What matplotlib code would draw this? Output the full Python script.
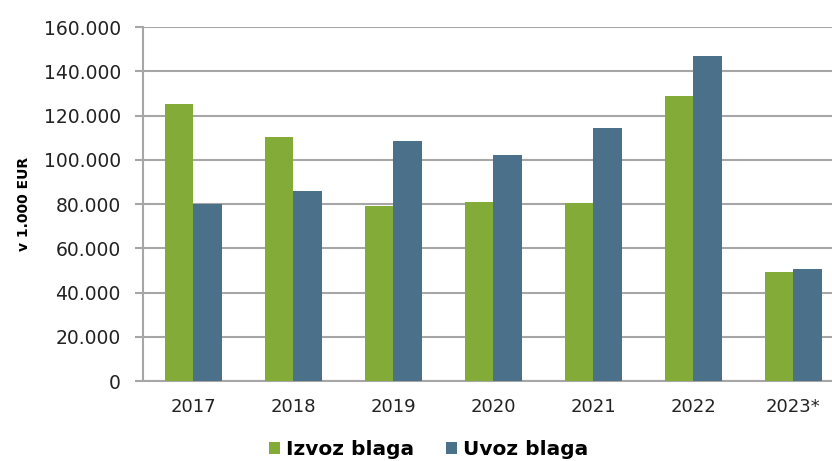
import matplotlib.pyplot as plt
import matplotlib.ticker as ticker
import numpy as np

# Data (v 1.000 EUR)
years = ['2017', '2018', '2019', '2020', '2021', '2022', '2023*']
izvoz = [125000, 110500, 79000, 81000, 80300, 129000, 49400]
uvoz = [80000, 86000, 108500, 102000, 114500, 147000, 50500]

green = '#82ac37'
blue = '#4a7189'
grid_col = '#a6a6a6'

plt.rcParams['font.family'] = 'DejaVu Sans'

fig = plt.figure(figsize=(8.32, 4.61), dpi=100)
ax = fig.add_axes([0.1719, 0.1735, 0.8281, 0.7679])

x = np.arange(len(years))
w = 0.285
ax.bar(x - w / 2, izvoz, width=w, color=green, label='Izvoz blaga', zorder=3)
ax.bar(x + w / 2, uvoz, width=w, color=blue, label='Uvoz blaga', zorder=3)

ax.set_xlim(-0.5, 6.39)
ax.set_ylim(0, 160000)
ax.yaxis.set_major_locator(ticker.MultipleLocator(20000))
ax.yaxis.set_major_formatter(ticker.FuncFormatter(lambda v, p: f'{int(v):,}'.replace(',', '.')))
ax.grid(axis='y', color=grid_col, linewidth=1.5, zorder=0)

ax.set_xticks(x)
ax.set_xticklabels(years)
ax.tick_params(axis='x', length=0, pad=12, labelsize=13, colors='#222222')
ax.tick_params(axis='y', length=6, width=1.5, color=grid_col, pad=10, labelsize=13.5, labelcolor='#222222')

for s in ['top', 'right']:
    ax.spines[s].set_visible(False)
for s in ['left', 'bottom']:
    ax.spines[s].set_color(grid_col)
    ax.spines[s].set_linewidth(1.5)

ax.set_ylabel('v 1.000 EUR', fontsize=10, fontweight='bold', labelpad=9)

leg = fig.legend(loc='center', bbox_to_anchor=(0.515, 0.025), ncol=2, frameon=False,
                 prop={'weight': 'bold', 'size': 14.5}, handlelength=0.55, handleheight=0.55,
                 handletextpad=0.3, columnspacing=1.6)

plt.savefig('out.png', dpi=100)
